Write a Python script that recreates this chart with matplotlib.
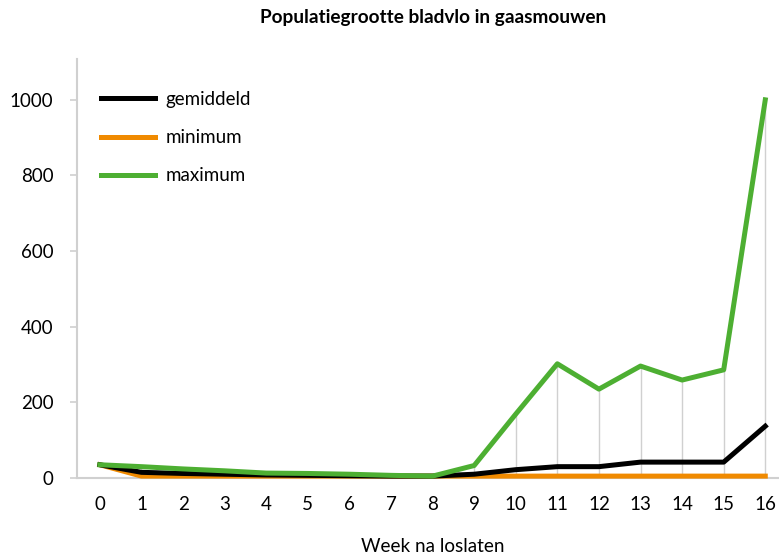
import matplotlib
matplotlib.use("Agg")
import matplotlib.pyplot as plt

weeks = list(range(17))
gemiddeld = [35, 15, 12, 10, 8, 7, 6, 5, 5, 10, 22, 30, 30, 42, 42, 42, 137]
minimum = [35, 5, 5, 5, 5, 5, 5, 5, 5, 5, 5, 5, 5, 5, 5, 5, 5]
maximum = [35, 30, 24, 19, 13, 12, 10, 7, 5, 33, 169, 302, 235, 296, 259, 286, 1000]
yticks = [0, 200, 400, 600, 800, 1000]

plt.rcParams['font.family'] = ['Lato', 'DejaVu Sans']

fig = plt.figure(figsize=(7.79, 5.59), dpi=100)
ax = fig.add_axes([77/779, 81/559, 1 - 77/779, 419/559])

# high-low lines
ax.vlines(weeks, minimum, maximum, color='#d0d0d0', lw=1, zorder=1)

ax.plot(weeks, gemiddeld, color='black', lw=3.6, label='gemiddeld', zorder=3, clip_on=False)
ax.plot(weeks, minimum, color='#F08A00', lw=3.6, label='minimum', zorder=2, clip_on=False)
ax.plot(weeks, maximum, color='#4DAF32', lw=3.6, label='maximum', zorder=4, clip_on=False)

ax.set_xlim(-0.55, 16.33)
ax.set_ylim(0, 1108)
ax.set_yticks(yticks)
ax.set_xticks(weeks)
ax.tick_params(axis='y', length=5, color='#d0d0d0', width=1.2, labelsize=13.5, pad=12)
ax.tick_params(axis='x', length=0, labelsize=13.5, pad=13)
for s in ['top', 'right']:
    ax.spines[s].set_visible(False)
ax.spines['left'].set_color('#d0d0d0')
ax.spines['left'].set_linewidth(1.5)
ax.spines['bottom'].set_color('#d0d0d0')
ax.spines['bottom'].set_linewidth(1.5)
ax.spines['bottom'].set_zorder(0)

leg = ax.legend(loc='upper left', bbox_to_anchor=(0.01, 0.964), frameon=False,
                fontsize=13.5, handlelength=2.9, labelspacing=1.13, handletextpad=0.55)

fig.text(433/779, 1 - 18/559, 'Populatiegrootte bladvlo in gaasmouwen', ha='center', va='center',
         fontsize=13.7, fontweight='bold')
fig.text(433/779, 1 - 547/559, 'Week na loslaten', ha='center', va='center', fontsize=13.6)

fig.savefig('out.png', dpi=100)
